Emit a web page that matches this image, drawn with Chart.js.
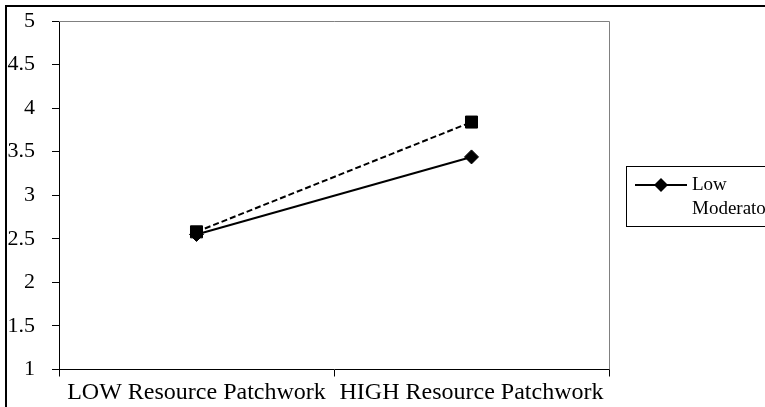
<!DOCTYPE html>
<html>
<head>
<meta charset="utf-8">
<script src="https://cdn.jsdelivr.net/npm/chart.js@4/dist/chart.umd.min.js"></script>
<style>
  html, body { margin: 0; padding: 0; background: #fff; overflow: hidden; }
  #wrap { width: 765px; height: 407px; }
</style>
</head>
<body>
<div id="wrap"><canvas id="chart" width="765" height="407"></canvas></div>
<script>
const categories = ["LOW Resource Patchwork", "HIGH Resource Patchwork"];
const lowModerator = [2.55, 3.44];
const highModerator = [2.58, 3.84];
const yMin = 1, yMax = 5, yStep = 0.5;

const serif = "'Liberation Serif', 'Times New Roman', serif";

// page frame, grey plot border and the cropped legend box
const decorations = {
  id: "decorations",
  beforeDraw(chart) {
    const ctx = chart.ctx;
    ctx.save();
    ctx.fillStyle = "#fff";
    ctx.fillRect(0, 0, chart.width, chart.height);
    ctx.restore();
  },
  afterDraw(chart) {
    const ctx = chart.ctx;
    const a = chart.chartArea;
    ctx.save();
    // outer frame (right/bottom fall outside the picture)
    ctx.strokeStyle = "#000";
    ctx.lineWidth = 2;
    ctx.strokeRect(6, 6, chart.width + 50, chart.height + 50);
    // grey top and right plot border
    ctx.strokeStyle = "#808080";
    ctx.lineWidth = 1;
    ctx.beginPath();
    ctx.moveTo(a.left, a.top + 0.5);
    ctx.lineTo(a.right + 0.5, a.top + 0.5);
    ctx.lineTo(a.right + 0.5, a.bottom);
    ctx.stroke();
    // legend
    const lx = 626, ly = 166;
    ctx.strokeStyle = "#000";
    ctx.lineWidth = 1;
    ctx.strokeRect(lx + 0.5, ly + 0.5, 200, 60);
    ctx.lineWidth = 2;
    ctx.beginPath();
    ctx.moveTo(lx + 9, ly + 19);
    ctx.lineTo(lx + 61, ly + 19);
    ctx.stroke();
    ctx.fillStyle = "#000";
    ctx.beginPath();
    ctx.moveTo(lx + 35, ly + 12);
    ctx.lineTo(lx + 42, ly + 19);
    ctx.lineTo(lx + 35, ly + 26);
    ctx.lineTo(lx + 28, ly + 19);
    ctx.closePath();
    ctx.fill();
    ctx.font = "19px " + serif;
    ctx.textBaseline = "middle";
    ctx.textAlign = "left";
    ctx.fillText("Low", lx + 66, ly + 19);
    ctx.fillText("Moderator", lx + 66, ly + 43);
    ctx.restore();
  }
};

new Chart(document.getElementById("chart"), {
  type: "line",
  data: {
    labels: categories,
    datasets: [
      {
        label: "Low Moderator",
        data: lowModerator,
        borderColor: "#000",
        backgroundColor: "#000",
        borderWidth: 2,
        pointStyle: "rectRot",
        pointRadius: 7,
        pointBorderWidth: 1,
        tension: 0,
        order: 1
      },
      {
        label: "High Moderator",
        data: highModerator,
        borderColor: "#000",
        backgroundColor: "#000",
        borderWidth: 2,
        borderDash: [6, 3],
        pointStyle: "rect",
        pointRadius: 8.5,
        pointBorderWidth: 1,
        tension: 0,
        order: 0
      }
    ]
  },
  options: {
    responsive: false,
    animation: false,
    devicePixelRatio: 1,
    layout: { padding: { left: 0, top: 21, right: 156, bottom: 0 } },
    plugins: {
      legend: { display: false },
      tooltip: { enabled: false }
    },
    scales: {
      x: {
        offset: true,
        grid: { offset: true, drawOnChartArea: false, drawTicks: true, tickLength: 7, color: "#000" },
        border: { color: "#000", width: 1 },
        ticks: { color: "#000", font: { family: serif, size: 24 }, padding: 2, maxRotation: 0, autoSkip: false },
        afterFit(scale) { scale.height = 37.5; scale.paddingLeft = 0; scale.paddingRight = 0; }
      },
      y: {
        min: yMin,
        max: yMax,
        grid: { drawOnChartArea: false, drawTicks: true, tickLength: 7, color: "#000" },
        border: { color: "#000", width: 1 },
        ticks: {
          stepSize: yStep,
          color: "#000",
          font: { family: serif, size: 22 },
          padding: 17,
          callback: (v) => String(v)
        },
        afterFit(scale) { scale.width = 59; scale.paddingTop = 0; scale.paddingBottom = 0; }
      }
    }
  },
  plugins: [decorations]
});
</script>
</body>
</html>
